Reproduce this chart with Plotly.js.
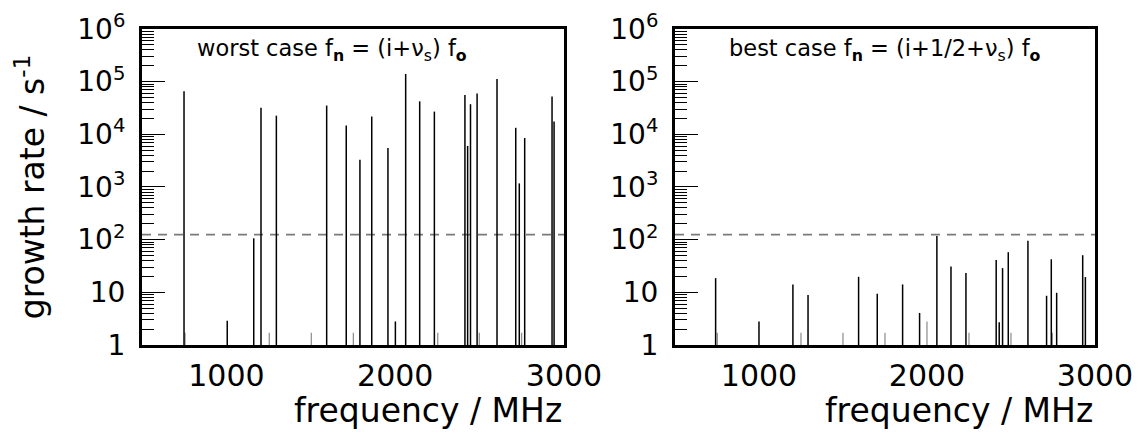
<!DOCTYPE html>
<html>
<head>
<meta charset="utf-8">
<script src="https://cdn.plot.ly/plotly-3.0.1.min.js"></script>
<style>html,body{margin:0;padding:0;background:#fff;}#chart{width:1145px;height:444px;}</style>
</head>
<body>
<div id="chart"></div>
<script>
// ---- data ----
const worstFreq = [749, 1005, 1162, 1205, 1296, 1594, 1710, 1791, 1861, 1957, 2001, 2062, 2145, 2232, 2413, 2429, 2446, 2485, 2603, 2714, 2735, 2767, 2929, 2941];
const worstRate = [65600, 2.9, 106, 31900, 22600, 35200, 14700, 3300, 21800, 5500, 2.8, 140000, 42300, 27000, 56000, 6000, 37300, 59500, 112000, 13300, 1170, 8500, 52000, 17500];
const worstFaintFreq = [755, 1254, 1503, 1752, 2252, 2498, 2749];
const worstFaintRate = [1.7, 1.7, 1.7, 1.7, 1.7, 1.7, 1.7];

const bestFreq = [742, 1000, 1202, 1292, 1593, 1704, 1855, 1956, 2059, 2143, 2232, 2412, 2430, 2450, 2484, 2601, 2712, 2740, 2772, 2927, 2943];
const bestRate = [18.6, 2.8, 14.1, 8.9, 19.7, 9.4, 14.1, 4.06, 117, 31, 23.2, 41.3, 2.7, 28.8, 57.8, 95.8, 8.6, 42.5, 9.8, 50.7, 19.5];
const bestFaintFreq = [752, 1250, 1500, 1750, 2000, 2250, 2500, 2746];
const bestFaintRate = [1.7, 1.7, 1.7, 1.7, 2.8, 1.7, 1.7, 1.7];

const threshold = 125;
const freqRange = [500, 3000];
const xTickVals = [1000, 2000, 3000];
const xTickText = ['1000', '2000', '3000'];
const yTickVals = [1, 10, 100, 1000, 10000, 100000, 1000000];
const yTickText = ['1', '10', '10<sup>2</sup>', '10<sup>3</sup>', '10<sup>4</sup>', '10<sup>5</sup>', '10<sup>6</sup>'];
const panelTitles = ['worst case f<sub><b>n</b></sub> = (i+ν<sub>s</sub>) f<sub><b>o</b></sub>',
                     'best case f<sub><b>n</b></sub> = (i+1/2+ν<sub>s</sub>) f<sub><b>o</b></sub>'];
const xTitle = 'frequency / MHz';
const yTitle = 'growth rate / s<sup>-1</sup>';

// ---- helpers ----
function spikes(freq, rate, xa, ya, color, width) {
  const x = [], y = [];
  for (let i = 0; i < freq.length; i++) {
    x.push(freq[i], freq[i], null);
    y.push(1, rate[i], null);
  }
  return {type: 'scatter', mode: 'lines', x: x, y: y, xaxis: xa, yaxis: ya,
          line: {color: color, width: width}, hoverinfo: 'skip', showlegend: false};
}
function thresholdLine(xa, ya) {
  return {type: 'scatter', mode: 'lines', x: freqRange, y: [threshold, threshold],
          xaxis: xa, yaxis: ya, line: {color: '#7a7a7a', width: 1.8, dash: '9px,7px'},
          hoverinfo: 'skip', showlegend: false};
}

const data = [
  thresholdLine('x', 'y'),
  spikes(worstFaintFreq, worstFaintRate, 'x', 'y', '#8a8a8a', 1.2),
  spikes(worstFreq, worstRate, 'x', 'y', '#000', 1.5),
  thresholdLine('x2', 'y2'),
  spikes(bestFaintFreq, bestFaintRate, 'x2', 'y2', '#8a8a8a', 1.2),
  spikes(bestFreq, bestRate, 'x2', 'y2', '#000', 1.5)
];

const font = 'DejaVu Sans, sans-serif';
function xaxis(domain, anchor) {
  return {domain: domain, anchor: anchor, range: freqRange, showline: true, linewidth: 3,
          linecolor: '#000', mirror: true, ticks: '', tickmode: 'array', tickvals: xTickVals,
          ticktext: xTickText, tickfont: {family: font, size: 30, color: '#000'},
          ticklabelstandoff: 2, showgrid: false, zeroline: false, automargin: false};
}
function yaxis(domain, anchor, withTitle) {
  const ax = {domain: domain, anchor: anchor, type: 'log', range: [0, 6], showline: true,
          linewidth: 3, linecolor: '#000', mirror: true, ticks: 'inside', ticklen: 23,
          tickwidth: 1, tickcolor: '#000', tickmode: 'array', tickvals: yTickVals,
          ticktext: yTickText, tickfont: {family: font, size: 28, color: '#000'},
          ticklabelstandoff: 8,
          minor: {dtick: 'D1', ticks: 'inside', ticklen: 12, tickwidth: 1, tickcolor: '#000', showgrid: false},
          showgrid: false, zeroline: false, automargin: false};
  if (withTitle) {
    ax.title = {text: yTitle, font: {family: font, size: 33, color: '#000'}, standoff: 23};
  }
  return ax;
}

const yDom = [0.223, 0.9347];
const layout = {
  width: 1145, height: 444,
  margin: {l: 0, r: 0, t: 0, b: 0},
  paper_bgcolor: '#fff', plot_bgcolor: '#fff',
  showlegend: false,
  xaxis: xaxis([0.124, 0.4926], 'y'),
  yaxis: yaxis(yDom, 'x', true),
  xaxis2: xaxis([0.5895, 0.9563], 'y2'),
  yaxis2: yaxis(yDom, 'x2', false),
  annotations: [
    {text: panelTitles[0], xref: 'x domain', yref: 'paper', x: 0.125, y: 0.887,
     xanchor: 'left', yanchor: 'middle', showarrow: false, font: {family: font, size: 22.5, color: '#000'}},
    {text: panelTitles[1], xref: 'x2 domain', yref: 'paper', x: 0.124, y: 0.887,
     xanchor: 'left', yanchor: 'middle', showarrow: false, font: {family: font, size: 22.5, color: '#000'}},
    {text: xTitle, xref: 'x domain', yref: 'paper', x: 1, y: 0.075,
     xanchor: 'right', yanchor: 'middle', showarrow: false, font: {family: font, size: 33, color: '#000'}},
    {text: xTitle, xref: 'x2 domain', yref: 'paper', x: 1, y: 0.075,
     xanchor: 'right', yanchor: 'middle', showarrow: false, font: {family: font, size: 33, color: '#000'}}
  ]
};

Plotly.newPlot('chart', data, layout, {staticPlot: true, displayModeBar: false});
</script>
</body>
</html>
